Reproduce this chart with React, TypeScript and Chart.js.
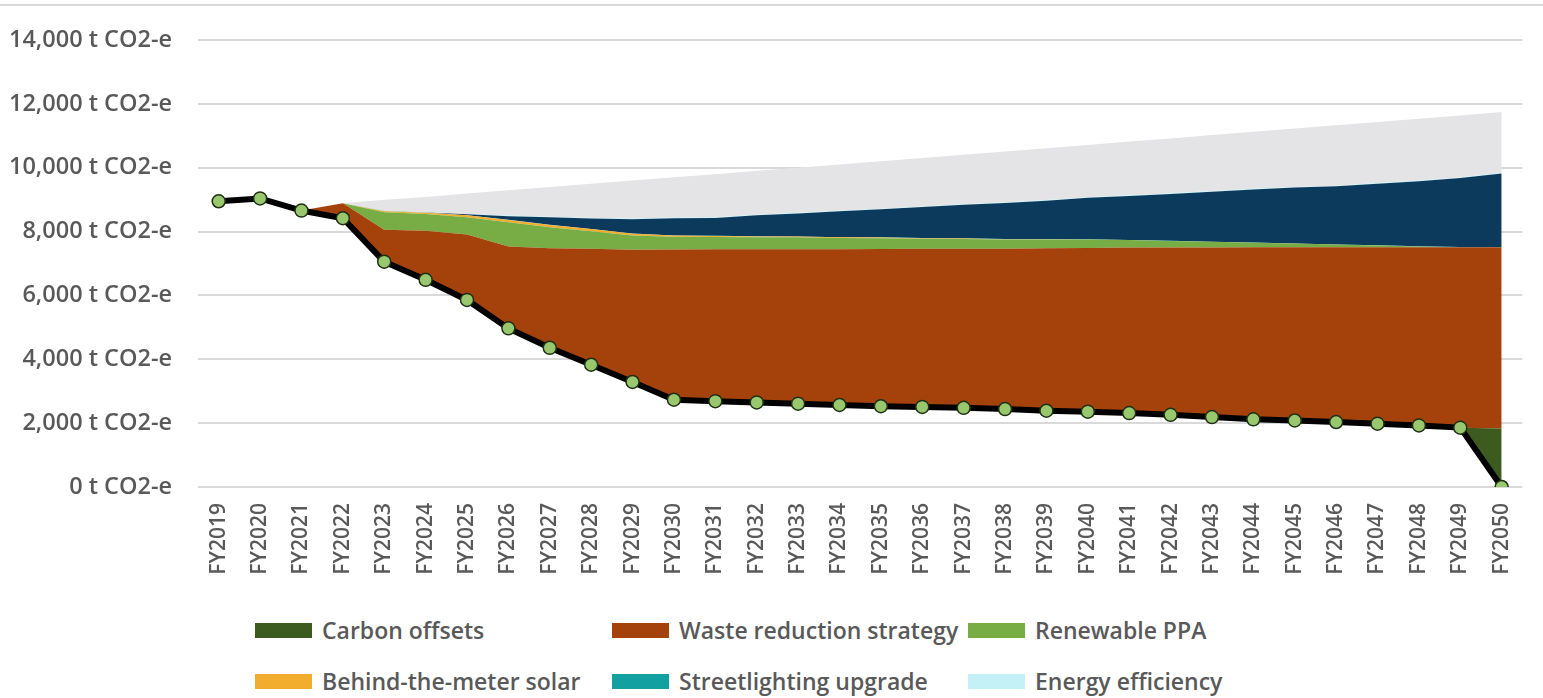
import { useEffect, useRef } from 'react';
import { Chart, registerables } from 'chart.js';

Chart.register(...registerables);

// Financial years on the category axis
const fiscalYears = [
  'FY2019', 'FY2020', 'FY2021', 'FY2022', 'FY2023', 'FY2024', 'FY2025', 'FY2026',
  'FY2027', 'FY2028', 'FY2029', 'FY2030', 'FY2031', 'FY2032', 'FY2033', 'FY2034',
  'FY2035', 'FY2036', 'FY2037', 'FY2038', 'FY2039', 'FY2040', 'FY2041', 'FY2042',
  'FY2043', 'FY2044', 'FY2045', 'FY2046', 'FY2047', 'FY2048', 'FY2049', 'FY2050',
];

// Net emissions trajectory (t CO2-e)
const netEmissions = [
  8950, 9040, 8660, 8420, 7060, 6490, 5860, 4970,
  4360, 3830, 3290, 2735, 2690, 2650, 2610, 2570,
  2530, 2510, 2480, 2440, 2390, 2360, 2315, 2260,
  2190, 2120, 2085, 2035, 1985, 1930, 1860, 0,
];

// Abatement wedges stacked on top of net emissions (t CO2-e)
const carbonOffsets = [
  0, 0, 0, 0, 0, 0, 0, 0,
  0, 0, 0, 0, 0, 0, 0, 0,
  0, 0, 0, 0, 0, 0, 0, 0,
  0, 0, 0, 0, 0, 0, 0, 1830,
];

const wasteReduction = [
  0, 0, 0, 470, 1000, 1540, 2050, 2565,
  3120, 3630, 4140, 4705, 4755, 4795, 4840, 4880,
  4925, 4950, 4980, 5025, 5090, 5130, 5185, 5245,
  5315, 5390, 5425, 5475, 5525, 5580, 5650, 5680,
];

const renewablePPA = [
  0, 0, 0, 0, 550, 525, 540, 760,
  660, 550, 450, 400, 390, 380, 370, 350,
  340, 320, 310, 290, 275, 260, 235, 205,
  175, 145, 115, 85, 55, 25, 0, 0,
];

const behindMeterSolar = [
  0, 0, 0, 0, 30, 40, 60, 70,
  70, 70, 55, 35, 30, 25, 25, 20,
  20, 15, 15, 10, 10, 5, 0, 0,
  0, 0, 0, 0, 0, 0, 0, 0,
];

const streetlightingUpgrade = [
  0, 0, 0, 0, 5, 5, 5, 5,
  5, 5, 5, 5, 5, 5, 5, 5,
  5, 5, 5, 5, 5, 5, 5, 5,
  5, 5, 5, 5, 5, 5, 5, 5,
];

const gridDecarbonisation = [
  0, 0, 0, 0, 0, 0, 30, 115,
  235, 325, 450, 540, 560, 655, 720, 815,
  880, 970, 1050, 1130, 1200, 1300, 1380, 1465,
  1565, 1660, 1750, 1820, 1930, 2040, 2165, 2305,
];

const energyEfficiency = [
  0, 0, 0, 0, 0, 0, 0, 20,
  20, 20, 20, 20, 20, 20, 20, 20,
  20, 20, 20, 20, 20, 20, 20, 20,
  20, 20, 20, 20, 20, 20, 20, 20,
];

const businessAsUsualGrowth = [
  0, 0, 0, 0, 350, 485, 650, 790,
  925, 1070, 1190, 1260, 1350, 1375, 1415, 1445,
  1485, 1520, 1550, 1590, 1625, 1635, 1680, 1720,
  1755, 1785, 1830, 1890, 1915, 1940, 1940, 1905,
];

// Value-axis gridlines
const yTicks = [0, 2000, 4000, 6000, 8000, 10000, 12000, 14000];
const yUnit = 't CO2-e';

const FONT = "'Open Sans', Lato, sans-serif";
const TEXT = '#595959';

type Layer = { label: string; values: number[]; color: string };

// Bottom-to-top stacking order
const layers: Layer[] = [
  { label: 'Carbon offsets', values: carbonOffsets, color: '#3d5a1f' },
  { label: 'Waste reduction strategy', values: wasteReduction, color: '#a5420c' },
  { label: 'Renewable PPA', values: renewablePPA, color: '#78ad45' },
  { label: 'Behind-the-meter solar', values: behindMeterSolar, color: '#f2ad2e' },
  { label: 'Streetlighting upgrade', values: streetlightingUpgrade, color: '#12a0a0' },
  { label: 'Grid decarbonisation', values: gridDecarbonisation, color: '#0c3a5d' },
  { label: 'Energy efficiency', values: energyEfficiency, color: '#c4f1f5' },
  { label: 'Business-as-usual growth', values: businessAsUsualGrowth, color: '#e4e4e6' },
];

const legendOrder = [
  'Carbon offsets',
  'Waste reduction strategy',
  'Renewable PPA',
  'Behind-the-meter solar',
  'Streetlighting upgrade',
  'Energy efficiency',
];

export default function App() {
  const canvasRef = useRef<HTMLCanvasElement>(null);

  useEffect(() => {
    const canvas = canvasRef.current;
    if (!canvas) return;

    const chart = new Chart(canvas, {
      type: 'line',
      data: {
        labels: fiscalYears,
        datasets: [
          {
            label: 'Net emissions',
            data: netEmissions,
            stack: 'net',
            borderColor: '#000000',
            borderWidth: 6,
            pointRadius: 6.5,
            pointBackgroundColor: '#98c76d',
            pointBorderColor: '#1f3015',
            pointBorderWidth: 1.5,
            fill: false,
            tension: 0,
          },
          {
            label: 'Net emissions base',
            data: netEmissions,
            stack: 'wedges',
            borderColor: 'rgba(0,0,0,0)',
            borderWidth: 0,
            pointRadius: 0,
            fill: false,
            tension: 0,
          },
          ...layers.map((l) => ({
            label: l.label,
            data: l.values,
            stack: 'wedges',
            borderColor: 'rgba(0,0,0,0)',
            borderWidth: 0,
            pointRadius: 0,
            backgroundColor: l.color,
            fill: '-1',
            tension: 0,
          })),
        ],
      },
      options: {
        responsive: false,
        animation: false,
        events: [],
        layout: { padding: { top: 38, right: 5, left: 0, bottom: 0 } },
        plugins: {
          legend: { display: false },
          tooltip: { enabled: false },
        },
        scales: {
          x: {
            offset: true,
            grid: { display: false, drawTicks: false },
            border: { display: false },
            ticks: {
              autoSkip: false,
              maxRotation: 90,
              minRotation: 90,
              padding: 16,
              color: TEXT,
              font: { family: FONT, size: 21, weight: 600 },
            },
            afterFit: (scale: any) => {
              scale.height = 113;
            },
          },
          y: {
            stacked: true,
            min: 0,
            max: 14000,
            grid: { color: '#d9d9d9', lineWidth: 2, drawTicks: false },
            border: { display: false },
            ticks: {
              padding: 26,
              color: TEXT,
              font: { family: FONT, size: 23.5, weight: 600 },
              callback: (v: any) => `${Number(v).toLocaleString('en-US')} ${yUnit}`,
            },
            afterBuildTicks: (scale: any) => {
              scale.ticks = yTicks.map((value) => ({ value }));
            },
            afterFit: (scale: any) => {
              scale.width = 198;
            },
          },
        },
      },
    });

    return () => chart.destroy();
  }, []);

  const legendItems = legendOrder.map((name) => layers.find((l) => l.label === name)!);

  return (
    <div
      style={{
        position: 'absolute',
        left: 0,
        top: 0,
        width: 1543,
        height: 698,
        background: '#ffffff',
        overflow: 'hidden',
      }}
    >
      <div
        style={{
          position: 'absolute',
          left: 0,
          top: 4,
          width: 1543,
          borderTop: '2px solid #d9d9d9',
        }}
      />
      <canvas
        ref={canvasRef}
        width={1543}
        height={600}
        style={{ position: 'absolute', left: 0, top: 0, width: 1543, height: 600 }}
      />
      <div
        style={{
          position: 'absolute',
          left: 255,
          top: 614,
          display: 'grid',
          gridTemplateColumns: '357px 356px 357px',
          gridAutoRows: 32,
          rowGap: 19,
          fontFamily: FONT,
          fontWeight: 600,
          fontSize: 23,
          color: TEXT,
        }}
      >
        {legendItems.map((item) => (
          <div
            key={item.label}
            style={{ display: 'flex', alignItems: 'center', height: 32, whiteSpace: 'nowrap' }}
          >
            <span
              style={{
                display: 'inline-block',
                width: 57,
                height: 15,
                background: item.color,
                marginRight: 10,
                flexShrink: 0,
              }}
            />
            <span>{item.label}</span>
          </div>
        ))}
      </div>
    </div>
  );
}
